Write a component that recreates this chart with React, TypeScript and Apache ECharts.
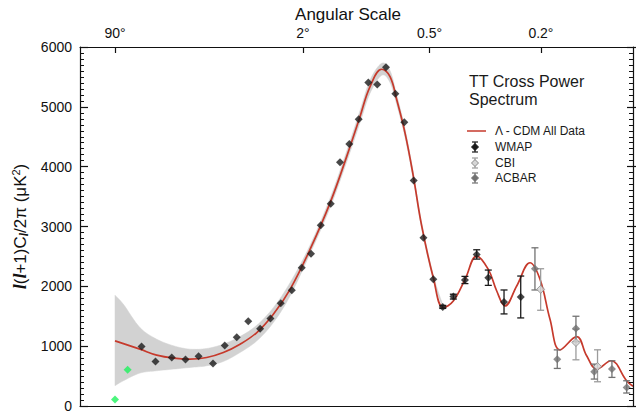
import React, { useEffect, useRef } from 'react';
import * as echarts from 'echarts';

// The horizontal axis of this figure is linear in l^(1/4) (multipole moment l).
const AXIS_POWER = 0.25;
const L_MIN = 0.49;
const L_MAX = 1682;

// Top axis: angular scale ticks (theta = 180 / l)
const angularTickL = [2, 90, 360, 900];
const angularTickLabels = ['90°', '2°', '0.5°', '0.2°'];

const Y_MIN = 0;
const Y_MAX = 6000;
const Y_STEP = 1000;

// Lambda-CDM best fit curve
const lcdmL = [2, 4.3, 6.7, 10, 14.3, 19.9, 27, 35.9, 46.9, 60, 75.9, 98.8, 126.6, 153.9, 178.7, 199.2, 225.4, 245.4, 262.6, 285.1, 309, 334.7, 372.7, 408, 445.8, 493.4, 544.6, 599.1, 641.2, 684.8, 750, 829.8, 893.8, 961.5, 1032.9, 1161, 1243, 1329.6, 1461, 1616, 1682];
const lcdmV = [1089, 950, 850, 800, 783, 811, 894, 1033, 1228, 1533, 1950, 2617, 3394, 4172, 4839, 5339, 5628, 5505, 5117, 4561, 3839, 3005, 2144, 1644, 1756, 2117, 2506, 2283, 1922, 1672, 2006, 2394, 2117, 1450, 939, 1161, 839, 617, 756, 420, 330];

// Cosmic variance band around the model
const bandL = [2, 2.63, 4.3, 6.7, 10, 14.3, 19.9, 27, 35.9, 46.9, 60, 75.9, 98.8, 126.6, 153.9, 178.7, 199.2, 225.4, 245.4, 262.6, 285.1, 309, 334.7, 372.7, 408];
const bandLo = [339, 422, 550, 589, 617, 644, 672, 744, 894, 1089, 1394, 1839, 2547, 3314, 4082, 4739, 5229, 5528, 5405, 5037, 4491, 3779, 2955, 2104, 1624];
const bandHi = [1850, 1700, 1311, 1117, 1006, 950, 961, 1033, 1161, 1350, 1644, 2061, 2687, 3474, 4262, 4939, 5449, 5728, 5605, 5197, 4631, 3899, 3055, 2184, 1664];

// Quadrupole and octopole (green)
const lowL = [2, 3];
const lowV = [110, 605];

// WMAP binned points
const wmapL = [4.5, 6.5, 9.6, 13, 17, 22.4, 27.7, 34, 41, 49.3, 57.5, 66.7, 77.7, 88.7, 100, 113, 127.6, 142.4, 158.5, 176, 195.5, 215, 235.5, 259, 283, 310, 340, 372.7, 406, 446, 493, 544.5, 599, 679.5, 773.5];
const wmapV = [995, 745, 811, 778, 833, 711, 1011, 1150, 1417, 1289, 1461, 1717, 1933, 2311, 2544, 3022, 3380, 4072, 4378, 4794, 5405, 5372, 5661, 5217, 4744, 3767, 2811, 2117, 1656, 1828, 2106, 2533, 2144, 1739, 1822];
const wmapErr = [0, 0, 0, 0, 0, 0, 0, 0, 0, 0, 0, 0, 0, 0, 0, 0, 0, 0, 0, 0, 0, 0, 0, 0, 0, 0, 0, 0, 25, 40, 60, 78, 128, 200, 350];

// CBI
const cbiL = [898, 1155, 1337];
const cbiV = [1950, 1061, 661];
const cbiLo = [1600, 772, 405];
const cbiHi = [2294, 1283, 939];

// ACBAR
const acbarL = [861, 1013, 1155, 1308, 1470, 1616];
const acbarV = [2294, 783, 1294, 572, 617, 311];
const acbarLo = [1939, 628, 1072, 450, 478, 217];
const acbarHi = [2644, 938, 1500, 700, 756, 422];

const RED = '#c63a2c';
const BAND = '#d2d2d2';
const WMAP_C = '#1a1a1a';
const CBI_C = '#9c9c9c';
const ACBAR_C = '#727272';
const SANS = '"Liberation Sans", Arial, Helvetica, sans-serif';

const toU = (l: number) => Math.pow(l, AXIS_POWER);

// Catmull-Rom smoothing of an already projected (pixel) polyline, for drawing only
function smoothPixels(pts: number[][], steps = 8): number[][] {
  const out: number[][] = [];
  const n = pts.length;
  for (let i = 0; i < n - 1; i++) {
    const p0 = pts[Math.max(0, i - 1)];
    const p1 = pts[i];
    const p2 = pts[i + 1];
    const p3 = pts[Math.min(n - 1, i + 2)];
    for (let k = 0; k < steps; k++) {
      const t = k / steps;
      const t2 = t * t;
      const t3 = t2 * t;
      const f = (a: number, b: number, c: number, d: number) =>
        0.5 * (2 * b + (-a + c) * t + (2 * a - 5 * b + 4 * c - d) * t2 + (-a + 3 * b - 3 * c + d) * t3);
      out.push([f(p0[0], p1[0], p2[0], p3[0]), f(p0[1], p1[1], p2[1], p3[1])]);
    }
  }
  out.push(pts[n - 1]);
  return out;
}

const errRender = (color: string) => (params: any, api: any) => {
  const x = api.value(0);
  const lo = api.value(1);
  const hi = api.value(2);
  const a = api.coord([x, hi]);
  const b = api.coord([x, lo]);
  const w = 3.5;
  const style = { stroke: color, lineWidth: 1.3 };
  return {
    type: 'group',
    children: [
      { type: 'line', shape: { x1: a[0], y1: a[1], x2: b[0], y2: b[1] }, style },
      { type: 'line', shape: { x1: a[0] - w, y1: a[1], x2: a[0] + w, y2: a[1] }, style },
      { type: 'line', shape: { x1: b[0] - w, y1: b[1], x2: b[0] + w, y2: b[1] }, style },
    ],
  };
};

// Band polygon: upper edge left->right, then lower edge right->left
const bandRender = (params: any, api: any) => {
  const up: number[][] = bandL.map((l, i) => api.coord([toU(l), bandHi[i]]));
  const lo: number[][] = bandL.map((l, i) => api.coord([toU(l), bandLo[i]]));
  const pts = smoothPixels(up).concat(smoothPixels(lo).reverse());
  return {
    type: 'polygon',
    shape: { points: pts },
    style: { fill: BAND, stroke: BAND, lineWidth: 0.5 },
  };
};

function legendIcon(cx: number, cy: number, stroke: string, fill: string, border: string) {
  const s = { stroke, lineWidth: 1.2 };
  return {
    type: 'group',
    children: [
      { type: 'line', shape: { x1: cx, y1: cy - 5, x2: cx, y2: cy + 5 }, style: s },
      { type: 'line', shape: { x1: cx - 3, y1: cy - 5, x2: cx + 3, y2: cy - 5 }, style: s },
      { type: 'line', shape: { x1: cx - 3, y1: cy + 5, x2: cx + 3, y2: cy + 5 }, style: s },
      {
        type: 'polygon',
        shape: { points: [[cx, cy - 3.5], [cx + 3.5, cy], [cx, cy + 3.5], [cx - 3.5, cy]] },
        style: { fill, stroke: border, lineWidth: 1 },
      },
    ],
  };
}

export default function App() {
  const ref = useRef<HTMLDivElement>(null);

  useEffect(() => {
    if (!ref.current) return;
    const chart = echarts.init(ref.current, null, { renderer: 'svg' });
    const uMin = toU(L_MIN);
    const uMax = toU(L_MAX);
    const tickU = angularTickL.map(toU);

    const yBase = {
      type: 'value',
      min: Y_MIN,
      max: Y_MAX,
      interval: Y_STEP,
      splitLine: { show: false },
      z: 10,
    };

    const option: any = {
      animation: false,
      backgroundColor: '#ffffff',
      grid: { left: 80, right: 7, top: 47, bottom: 6, containLabel: false },
      xAxis: [
        {
          type: 'value',
          position: 'bottom',
          min: uMin,
          max: uMax,
          axisLine: { show: true, onZero: false, lineStyle: { color: '#111', width: 1.2 } },
          axisTick: { show: false },
          axisLabel: { show: false },
          splitLine: { show: false },
          z: 10,
        },
        {
          type: 'value',
          position: 'top',
          min: uMin,
          max: uMax,
          axisLine: { show: true, onZero: false, lineStyle: { color: '#111', width: 1 } },
          axisTick: { show: true, inside: true, length: 6, customValues: tickU, lineStyle: { color: '#111', width: 1.2 } },
          axisLabel: {
            show: true,
            customValues: tickU,
            margin: 7,
            fontSize: 14,
            fontFamily: SANS,
            color: '#111',
            formatter: (v: number) => {
              const i = tickU.findIndex((t) => Math.abs(t - v) < 1e-6);
              return i >= 0 ? angularTickLabels[i] : '';
            },
          },
          splitLine: { show: false },
          z: 10,
        },
      ],
      yAxis: [
        {
          ...yBase,
          position: 'left',
          name: '{i|l}({i|l}+1)C{s|l}/2π (μK{p|2})',
          nameLocation: 'middle',
          nameGap: 44,
          nameTextStyle: {
            fontSize: 17,
            fontFamily: SANS,
            color: '#111',
            rich: {
              i: { fontSize: 18, fontFamily: '"Liberation Serif", serif', fontStyle: 'italic', fontWeight: 'bold', color: '#111' },
              s: { fontSize: 12, fontFamily: '"Liberation Serif", serif', fontStyle: 'italic', fontWeight: 'bold', color: '#111', verticalAlign: 'bottom', padding: [7, 0, 0, 0] },
              p: { fontSize: 11, fontFamily: SANS, color: '#111', verticalAlign: 'top', padding: [0, 0, 7, 0] },
            },
          },
          axisLine: { show: true, onZero: false, lineStyle: { color: '#111', width: 1.2 } },
          axisTick: { show: true, inside: true, length: 8, lineStyle: { color: '#111', width: 1.2 } },
          minorTick: { show: true, splitNumber: 10, length: 4, lineStyle: { color: '#111', width: 1 } },
          axisLabel: { show: true, margin: 8, fontSize: 14, fontFamily: SANS, color: '#111', formatter: (v: number) => String(v) },
        },
        {
          ...yBase,
          position: 'right',
          axisLine: { show: true, onZero: false, lineStyle: { color: '#111', width: 1.2 } },
          axisTick: { show: true, inside: true, length: 6, lineStyle: { color: '#111', width: 1.2 } },
          minorTick: { show: true, splitNumber: 10, length: 4, lineStyle: { color: '#111', width: 1 } },
          axisLabel: { show: false },
        },
        {
          ...yBase,
          position: 'right',
          axisLine: { show: false },
          axisTick: { show: true, inside: false, length: 3, lineStyle: { color: '#111', width: 1.2 } },
          axisLabel: { show: false },
        },
      ],
      series: [
        {
          name: 'band',
          type: 'custom',
          z: 1,
          silent: true,
          renderItem: bandRender,
          encode: { x: 0, y: 1 },
          data: [[toU(bandL[0]), bandLo[0]]],
        },
        {
          name: 'Λ - CDM All Data',
          type: 'line',
          z: 3,
          data: lcdmL.map((l, i) => [toU(l), lcdmV[i]]),
          smooth: 0.4,
          symbol: 'none',
          lineStyle: { color: RED, width: 1.7 },
        },
        {
          name: 'WMAP err',
          type: 'custom',
          z: 4,
          renderItem: errRender(WMAP_C),
          encode: { x: 0, y: [1, 2] },
          data: wmapL
            .map((l, i) => [toU(l), wmapV[i] - wmapErr[i], wmapV[i] + wmapErr[i], wmapErr[i]])
            .filter((d) => d[3] > 0),
        },
        {
          name: 'CBI err',
          type: 'custom',
          z: 4,
          renderItem: errRender(CBI_C),
          encode: { x: 0, y: [1, 2] },
          data: cbiL.map((l, i) => [toU(l), cbiLo[i], cbiHi[i]]),
        },
        {
          name: 'ACBAR err',
          type: 'custom',
          z: 4,
          renderItem: errRender(ACBAR_C),
          encode: { x: 0, y: [1, 2] },
          data: acbarL.map((l, i) => [toU(l), acbarLo[i], acbarHi[i]]),
        },
        {
          name: 'low-l',
          type: 'scatter',
          z: 5,
          symbol: 'diamond',
          symbolSize: 8,
          itemStyle: { color: '#1ef25c' },
          data: lowL.map((l, i) => [toU(l), lowV[i]]),
        },
        {
          name: 'WMAP',
          type: 'scatter',
          z: 5,
          symbol: 'diamond',
          symbolSize: 8,
          itemStyle: { color: WMAP_C },
          data: wmapL.map((l, i) => [toU(l), wmapV[i]]),
        },
        {
          name: 'CBI',
          type: 'scatter',
          z: 5,
          symbol: 'diamond',
          symbolSize: 8,
          itemStyle: { color: '#d6d6d6', borderColor: '#8a8a8a', borderWidth: 1 },
          data: cbiL.map((l, i) => [toU(l), cbiV[i]]),
        },
        {
          name: 'ACBAR',
          type: 'scatter',
          z: 5,
          symbol: 'diamond',
          symbolSize: 8,
          itemStyle: { color: ACBAR_C },
          data: acbarL.map((l, i) => [toU(l), acbarV[i]]),
        },
      ],
      graphic: [
        {
          type: 'text',
          x: 348,
          y: 14,
          style: { text: 'Angular Scale', font: `17px ${SANS}`, fill: '#111', textAlign: 'center', textVerticalAlign: 'middle' },
        },
        {
          type: 'text',
          x: 469,
          y: 81,
          style: { text: 'TT Cross Power', font: `16px ${SANS}`, fill: '#1a1a1a', textAlign: 'left', textVerticalAlign: 'middle' },
        },
        {
          type: 'text',
          x: 469,
          y: 99,
          style: { text: 'Spectrum', font: `16px ${SANS}`, fill: '#1a1a1a', textAlign: 'left', textVerticalAlign: 'middle' },
        },
        { type: 'line', shape: { x1: 467, y1: 131, x2: 486, y2: 131 }, style: { stroke: RED, lineWidth: 1.5 } },
        { type: 'text', x: 495, y: 131, style: { text: 'Λ - CDM All Data', font: `12px ${SANS}`, fill: '#1a1a1a', textAlign: 'left', textVerticalAlign: 'middle' } },
        legendIcon(475, 147, WMAP_C, WMAP_C, WMAP_C),
        { type: 'text', x: 495, y: 147, style: { text: 'WMAP', font: `12px ${SANS}`, fill: '#1a1a1a', textAlign: 'left', textVerticalAlign: 'middle' } },
        legendIcon(475, 163, CBI_C, '#d6d6d6', '#8a8a8a'),
        { type: 'text', x: 495, y: 163, style: { text: 'CBI', font: `12px ${SANS}`, fill: '#1a1a1a', textAlign: 'left', textVerticalAlign: 'middle' } },
        legendIcon(475, 178, ACBAR_C, ACBAR_C, ACBAR_C),
        { type: 'text', x: 495, y: 178, style: { text: 'ACBAR', font: `12px ${SANS}`, fill: '#1a1a1a', textAlign: 'left', textVerticalAlign: 'middle' } },
      ],
    };

    chart.setOption(option);
    return () => chart.dispose();
  }, []);

  return (
    <div
      ref={ref}
      style={{ position: 'fixed', left: 0, top: 0, width: 640, height: 413, background: '#fff' }}
    />
  );
}
